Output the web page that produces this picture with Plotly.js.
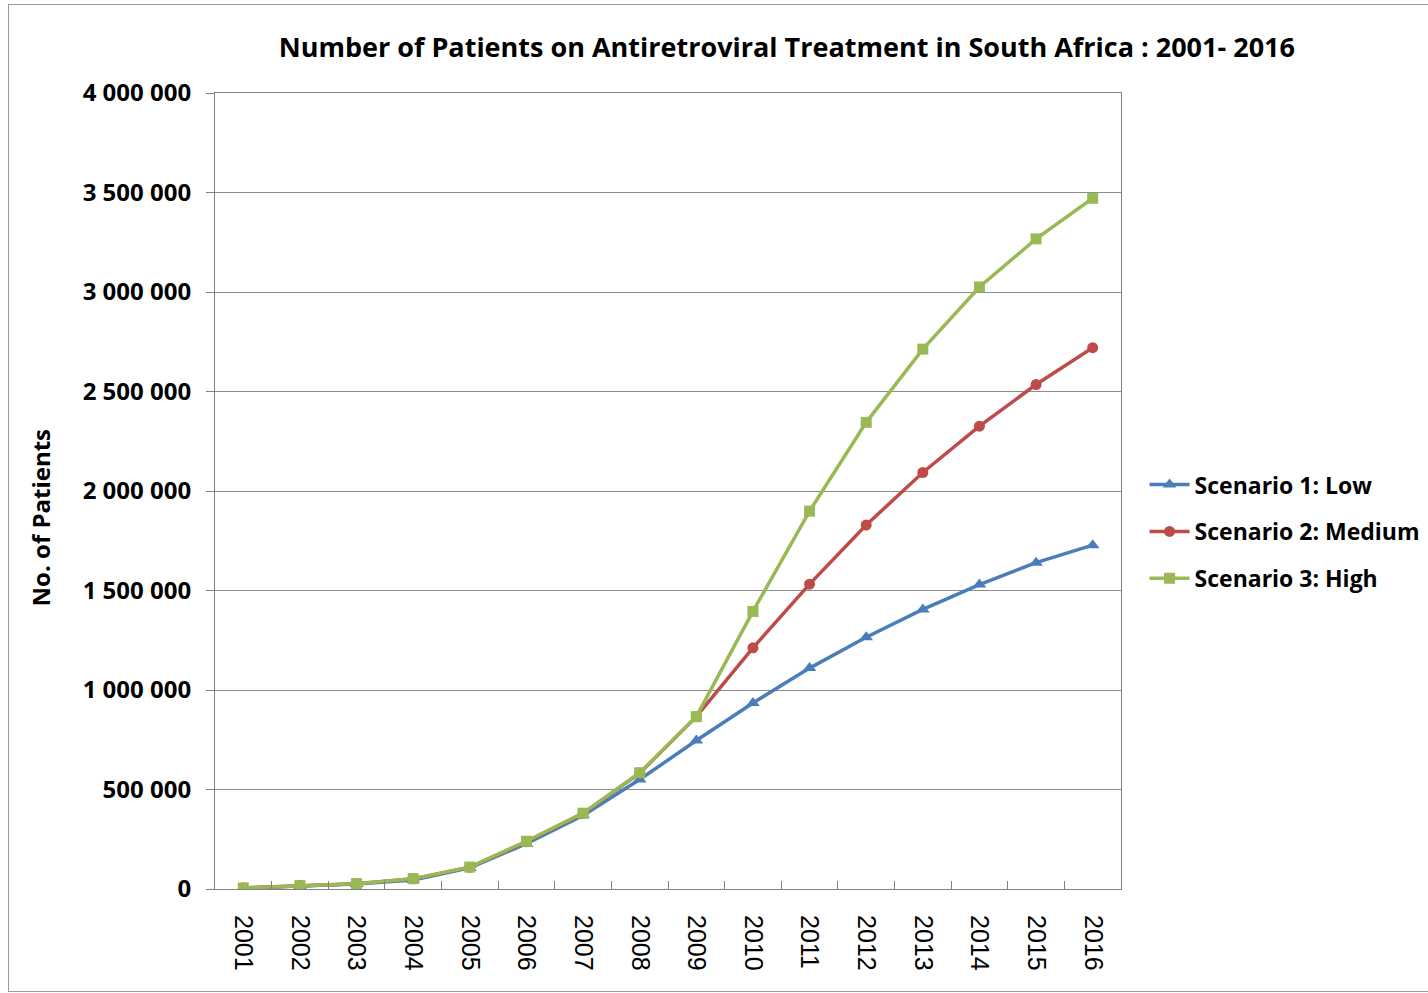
<!DOCTYPE html>
<html>
<head>
<meta charset="utf-8">
<script src="https://cdn.plot.ly/plotly-3.0.1.min.js"></script>
<style>
html,body{margin:0;padding:0;background:#fff;}
#wrap{position:relative;width:1428px;height:993px;}
#chart{position:absolute;left:0;top:0;width:1428px;height:993px;}
#frame{position:absolute;left:8px;top:4px;width:1430px;height:986px;border:1px solid #9a9a9a;pointer-events:none;}
</style>
</head>
<body>
<div id="wrap"><div id="chart"></div><div id="frame"></div></div>
<script>
const years = ['2001','2002','2003','2004','2005','2006','2007','2008','2009','2010','2011','2012','2013','2014','2015','2016'];
const lowValues    = [5000, 15000, 25000, 45000, 106000, 228000, 370000, 550000, 746000, 935000, 1110000, 1265000, 1405000, 1530000, 1640000, 1728000];
const mediumValues = [5000, 17000, 27000, 51000, 109000, 238000, 380000, 582000, 866000, 1212000, 1532000, 1829000, 2093000, 2326000, 2535000, 2720000];
const highValues   = [5000, 17000, 27000, 52000, 110000, 240000, 381000, 584000, 866000, 1395000, 1899000, 2345000, 2713000, 3025000, 3267000, 3471000];
const seriesNames = ['Scenario 1: Low', 'Scenario 2: Medium', 'Scenario 3: High'];
const yTicks = [0, 500000, 1000000, 1500000, 2000000, 2500000, 3000000, 3500000, 4000000];

const mk = (name, vals, color, symbol, size, grp) => ({
  type: 'scatter', mode: 'lines+markers', name: name, x: years, y: vals,
  line: {color: color, width: 3.5},
  marker: {color: color, symbol: symbol, size: size},
  legendgroup: grp
});

const data = [
  mk(seriesNames[0], lowValues, '#4a7ebb', 'triangle-up', 12, 'a'),
  mk(seriesNames[1], mediumValues, '#be4b48', 'circle', 11, 'b'),
  mk(seriesNames[2], highValues, '#98b954', 'square', 11, 'c')
];

const layout = {
  width: 1428, height: 993,
  margin: {l: 215, r: 307, t: 93, b: 104, autoexpand: false},
  paper_bgcolor: '#fff', plot_bgcolor: '#fff',
  separators: '. ',
  font: {family: 'Open Sans, sans-serif', color: '#000'},
  title: {
    text: '<b>Number of Patients on Antiretroviral Treatment in South Africa : 2001- 2016</b>',
    font: {family: 'Open Sans, sans-serif', size: 27, color: '#000'},
    xref: 'container', x: 0.551, xanchor: 'center',
    yref: 'container', y: 0.952, yanchor: 'middle'
  },
  xaxis: {
    type: 'category',
    range: [-0.5, 15.5],
    tickson: 'boundaries',
    ticks: 'inside', ticklen: 8, tickcolor: '#808080',
    tickangle: 90,
    tickfont: {family: 'Liberation Sans, Arial, sans-serif', size: 25, color: '#000'},
    showline: true, linecolor: '#808080', linewidth: 1, mirror: true,
    showgrid: false, zeroline: false,
    ticklabelstandoff: 20
  },
  yaxis: {
    range: [0, 4000000],
    tickvals: yTicks,
    tickformat: ',d',
    ticks: 'outside', ticklen: 8, tickcolor: '#808080',
    tickfont: {family: 'Open Sans, sans-serif', size: 24, color: '#000', weight: 'bold'},
    showline: true, linecolor: '#808080', linewidth: 1, mirror: true,
    showgrid: true, gridcolor: '#8c8c8c', gridwidth: 1,
    zeroline: false,
    ticklabelstandoff: 10
  },
  annotations: [{
    text: '<b>No. of Patients</b>', textangle: -90, showarrow: false,
    xref: 'paper', yref: 'paper', x: -0.193, y: 0.467,
    xanchor: 'center', yanchor: 'middle',
    font: {family: 'Open Sans, sans-serif', size: 24, color: '#000'}
  }],
  showlegend: true,
  legend: {
    x: 1.026, xanchor: 'left', y: 0.449, yanchor: 'middle',
    font: {family: 'Open Sans, sans-serif', size: 23, color: '#000', weight: 'bold'},
    traceorder: 'grouped', tracegroupgap: 14,
    itemwidth: 40, bgcolor: 'rgba(0,0,0,0)'
  }
};

Plotly.newPlot('chart', data, layout, {displayModeBar: false, staticPlot: true});
</script>
</body>
</html>
